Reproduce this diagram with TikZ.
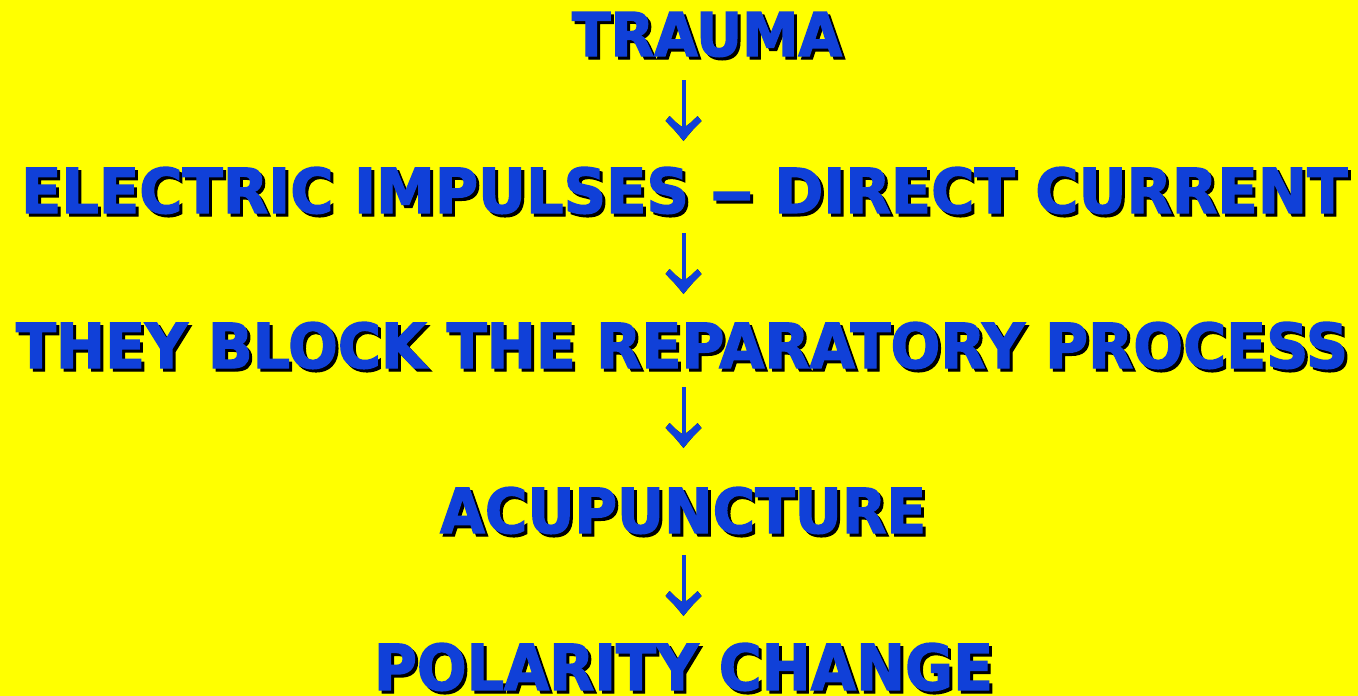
\documentclass[tikz,border=0pt]{standalone}
\usepackage{fontspec}
\setmainfont{DejaVu Sans}
\newfontfamily\heavy{DejaVu Sans Bold}[FakeBold=2.2]
\usepackage{graphicx}
\definecolor{bgyellow}{HTML}{FFFF00}
\definecolor{txtblue}{HTML}{1040D8}
\newcommand\shtxt[3]{%
  \makebox[0pt][l]{\hspace{3pt}\raisebox{-3pt}{\color{black}\resizebox{#1}{#2}{\heavy #3}}}%
  {\color{txtblue}\resizebox{#1}{#2}{\heavy #3}}}
\newcommand\longdash{\scalebox{1.5}[1]{–}}
\tikzset{
  line/.style={inner sep=0pt, outer sep=0pt, anchor=base west},
  shaft/.style={line width=4pt},
  headshape/.pic={
    \fill (-18,-19) -- (-14,-24) .. controls (-7,-17) .. (0,-12)
          .. controls (7,-17) .. (14,-24) -- (18,-19)
          .. controls (9,-10) .. (0,1) .. controls (-9,-10) .. (-18,-19) -- cycle;
  }
}
\begin{document}
\begin{tikzpicture}[x=1pt,y=-1pt]
\fill[bgyellow] (0,0) rectangle (1358,696);
\useasboundingbox (0,0) rectangle (1358,696);

\node[line] (l1) at (572,56)  {\shtxt{270pt}{44pt}{TRAUMA}};
\node[line] (l2) at (21,213)  {\shtxt{1326pt}{46pt}{ELECTRIC IMPULSES \longdash{} DIRECT CURRENT}};
\node[line] (l3) at (16,368)  {\shtxt{1332pt}{46pt}{THEY BLOCK THE REPARATORY PROCESS}};
\node[line] (l4) at (440,533) {\shtxt{486pt}{46pt}{ACUPUNCTURE}};
\node[line] (l5) at (374,690) {\shtxt{619pt}{47pt}{POLARITY CHANGE}};

\coordinate (a1s) at (683.5,80);  \coordinate (a1e) at (683.5,140);
\coordinate (a2s) at (683.5,233); \coordinate (a2e) at (683.5,293);
\coordinate (a3s) at (683.5,387); \coordinate (a3e) at (683.5,447);
\coordinate (a4s) at (683.5,555); \coordinate (a4e) at (683.5,615);

% shadows
\begin{scope}[shift={(3,3)}, black]
\foreach \s/\e in {a1s/a1e,a2s/a2e,a3s/a3e,a4s/a4e}{
  \draw[shaft] (\s) -- ([yshift=10]\e);
  \pic at (\e) {headshape};
}
\end{scope}
% arrows
\begin{scope}[txtblue]
\foreach \s/\e in {a1s/a1e,a2s/a2e,a3s/a3e,a4s/a4e}{
  \draw[shaft, txtblue] (\s) -- ([yshift=10]\e);
  \pic[txtblue] at (\e) {headshape};
}
\end{scope}
\end{tikzpicture}
\end{document}
